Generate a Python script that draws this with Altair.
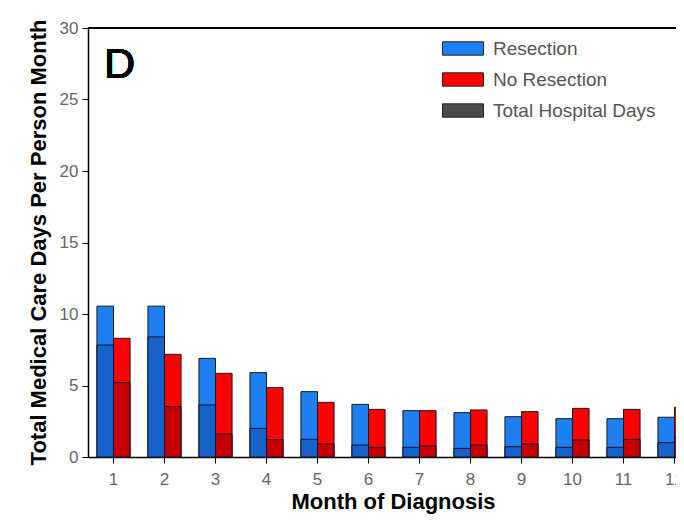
import altair as alt
import pandas as pd

months = list(range(1, 13))
groups = ["Resection", "No Resection"]
resection_total = [10.55, 10.55, 6.9, 5.9, 4.57, 3.68, 3.24, 3.1, 2.82, 2.68, 2.68, 2.78]
resection_hosp = [7.83, 8.4, 3.64, 2.0, 1.24, 0.84, 0.68, 0.6, 0.72, 0.68, 0.68, 1.0]
noresection_total = [8.3, 7.18, 5.85, 4.85, 3.82, 3.33, 3.24, 3.29, 3.17, 3.4, 3.33, 3.48]
noresection_hosp = [5.2, 3.52, 1.6, 1.22, 0.91, 0.68, 0.77, 0.84, 0.91, 1.19, 1.24, 1.38]
y_ticks = [0, 5, 10, 15, 20, 25, 30]
legend_labels = ["Resection", "No Resection", "Total Hospital Days"]

rows = []
for i, m in enumerate(months):
    rows.append({"month": m, "group": groups[0], "total": resection_total[i], "hosp": resection_hosp[i]})
    rows.append({"month": m, "group": groups[1], "total": noresection_total[i], "hosp": noresection_hosp[i]})
df = pd.DataFrame(rows)

x_enc = alt.X(
    "month:O",
    scale=alt.Scale(range=[0, 612], paddingInner=0.35, paddingOuter=0.175),
    axis=alt.Axis(
        labelAngle=0, tickSize=6, tickColor="black", domainColor="black", domainWidth=1.5,
        labelPadding=8, labelFontSize=17, labelColor="#666", labelFont="Liberation Sans",
        title="Month of Diagnosis", titleFontSize=22, titleFontWeight="bold",
        titleFont="Liberation Sans", titleX=305, titleY=51, titleBaseline="alphabetic",
        titleAlign="center", titleColor="black",
    ),
)
xoff_enc = alt.XOffset("group:N", scale=alt.Scale(domain=groups, paddingInner=0, paddingOuter=0))
y_scale = alt.Scale(domain=[0, 30], nice=False)
y_axis = alt.Axis(
    values=y_ticks, grid=False, tickSize=6, tickColor="black", domainColor="black", domainWidth=1.5,
    labelPadding=4, labelFontSize=17, labelColor="#666", labelFont="Liberation Sans",
    title="Total Medical Care Days Per Person Month", titleFontSize=22, titleFontWeight="bold",
    titleFont="Liberation Sans", titleX=-50, titleY=214, titleBaseline="middle", titleColor="black",
)

totals = alt.Chart(df).mark_bar(stroke="#1a1a1a", strokeWidth=1).encode(
    x=x_enc,
    xOffset=xoff_enc,
    y=alt.Y("total:Q", scale=y_scale, axis=y_axis),
    color=alt.Color(
        "group:N",
        scale=alt.Scale(domain=legend_labels, range=["#1e80f0", "#ff0000", "#4a4a4a"]),
        legend=alt.Legend(
            orient="none", legendX=364, legendY=9.5, title=None,
            symbolType="M-2,-0.65H2V0.65H-2Z", symbolSize=420,
            labelFontSize=19, labelColor="#555", labelFont="Liberation Sans", labelLimit=400,
            rowPadding=10, labelOffset=19, symbolStrokeColor="#222", symbolStrokeWidth=1,
            symbolOpacity=1,
        ),
    ),
)

hosp = alt.Chart(df).mark_bar(stroke="#101030", strokeWidth=1).encode(
    x=x_enc,
    xOffset=xoff_enc,
    y=alt.Y("hosp:Q", scale=y_scale, axis=y_axis),
    fill=alt.Fill("group:N", scale=alt.Scale(domain=groups, range=["#1563c8", "#c40000"]), legend=None),
)

top_line = alt.Chart(df).mark_rule(color="black", strokeWidth=1.5).encode(y=alt.datum(30))

panel = alt.Chart(df).mark_text(
    text="D", fontSize=43, font="Liberation Sans", align="left", baseline="alphabetic", color="black"
).encode(x=alt.value(16), y=alt.value(50))

chart = alt.layer(totals, hosp, top_line, panel).properties(
    width=588, height=429,
    autosize=alt.AutoSizeParams(type="none"),
    padding={"left": 80, "top": 20, "right": 0, "bottom": 57},
).configure_view(stroke=None).configure(background="white")

chart.save("out.html", embed_options={"renderer": "svg", "actions": False})
